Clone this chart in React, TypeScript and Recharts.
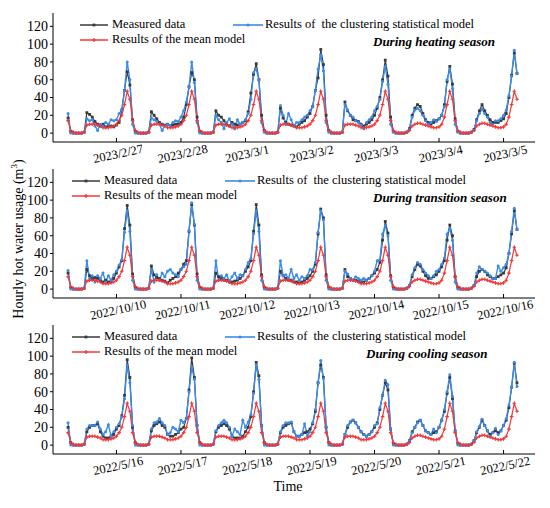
import { LineChart, Line, XAxis, YAxis } from "recharts";

const BLACK = "#3a3a3a";
const BLUE = "#3b8beb";
const RED = "#f2383a";
const FONT = "'Liberation Serif', 'Times New Roman', serif";

// hour index of each labelled tick (one per day)
const tickHours = [18, 42, 66, 90, 114, 138, 162];
const yTicks = [0, 20, 40, 60, 80, 100, 120];

const heatDates = ["2023/2/27", "2023/2/28", "2023/3/1", "2023/3/2", "2023/3/3", "2023/3/4", "2023/3/5"];
const transDates = ["2022/10/10", "2022/10/11", "2022/10/12", "2022/10/13", "2022/10/14", "2022/10/15", "2022/10/16"];
const coolDates = ["2022/5/16", "2022/5/17", "2022/5/18", "2022/5/19", "2022/5/20", "2022/5/21", "2022/5/22"];

// mean model, same profile read in all three panels
const meanModel = [
  14, 3, 1, 0, 0, 0, 1, 9, 10, 10, 10, 9, 8, 6, 6, 6, 7, 8, 10, 14, 20, 32, 47, 38,
  14, 3, 1, 0, 0, 0, 1, 9, 10, 10, 10, 9, 8, 6, 6, 6, 7, 8, 10, 14, 20, 32, 47, 38,
  14, 3, 1, 0, 0, 0, 1, 9, 10, 10, 10, 9, 8, 6, 6, 6, 7, 8, 10, 14, 20, 32, 47, 38,
  14, 3, 1, 0, 0, 0, 1, 9, 10, 10, 10, 9, 8, 6, 6, 6, 7, 8, 10, 14, 20, 32, 47, 38,
  14, 3, 1, 0, 0, 0, 1, 9, 10, 10, 10, 9, 8, 6, 6, 6, 7, 8, 10, 14, 20, 32, 47, 38,
  14, 3, 1, 0, 0, 0, 1, 3, 8, 10, 11, 11, 10, 9, 8, 7, 6, 6, 7, 10, 18, 32, 47, 38,
  14, 3, 1, 0, 0, 0, 1, 3, 8, 10, 11, 11, 10, 9, 8, 7, 6, 6, 7, 10, 18, 32, 47, 38,
];

const heatMeasured = [
  17, 2, 0, 0, 0, 0, 1, 23, 21, 18, 13, 10, 8, 10, 7, 8, 8, 7, 9, 12, 26, 48, 69, 54,
  15, 2, 0, 0, 0, 0, 1, 24, 20, 16, 12, 10, 9, 10, 8, 9, 10, 10, 12, 18, 32, 52, 68, 60,
  18, 2, 0, 0, 0, 0, 1, 25, 20, 18, 14, 10, 8, 12, 10, 9, 10, 12, 14, 24, 45, 66, 78, 60,
  20, 3, 0, 0, 0, 0, 1, 28, 17, 12, 10, 9, 8, 7, 10, 12, 14, 18, 22, 30, 48, 62, 94, 77,
  20, 3, 0, 0, 0, 0, 1, 35, 25, 20, 15, 14, 13, 10, 8, 10, 12, 15, 20, 28, 40, 60, 82, 64,
  18, 2, 0, 0, 0, 0, 1, 5, 20, 28, 32, 30, 22, 15, 12, 10, 12, 14, 16, 20, 32, 58, 75, 55,
  16, 2, 0, 0, 0, 0, 1, 4, 15, 25, 32, 25, 20, 15, 12, 12, 12, 14, 16, 22, 40, 65, 90, 67,
];
const heatClustering = [
  22, 0, 0, 0, 0, 0, 1, 16, 14, 15, 8, 3, 10, 8, 12, 10, 15, 14, 15, 22, 26, 48, 80, 60,
  10, 0, 0, 0, 0, 0, 1, 17, 15, 13, 10, 3, 8, 10, 8, 12, 14, 13, 18, 25, 35, 52, 80, 57,
  12, 0, 0, 0, 0, 0, 1, 20, 15, 12, 5, 12, 16, 10, 5, 15, 10, 12, 15, 22, 38, 68, 72, 60,
  12, 1, 0, 0, 0, 0, 1, 31, 20, 10, 22, 15, 8, 12, 12, 15, 18, 20, 25, 30, 48, 72, 88, 70,
  12, 1, 0, 0, 0, 0, 1, 32, 26, 20, 18, 14, 12, 9, 5, 12, 15, 18, 25, 30, 38, 58, 75, 55,
  10, 1, 0, 0, 0, 0, 1, 4, 18, 26, 28, 25, 20, 14, 10, 12, 15, 13, 16, 20, 30, 60, 72, 50,
  10, 1, 0, 0, 0, 0, 1, 3, 14, 22, 27, 22, 18, 12, 10, 14, 14, 16, 20, 26, 42, 64, 93, 67,
];

const transMeasured = [
  18, 2, 0, 0, 0, 0, 1, 22, 15, 12, 13, 12, 10, 8, 10, 8, 9, 12, 18, 25, 32, 68, 94, 72,
  17, 2, 0, 0, 0, 0, 1, 26, 16, 13, 12, 10, 9, 7, 10, 12, 14, 18, 22, 28, 32, 65, 95, 72,
  17, 2, 0, 0, 0, 0, 1, 18, 14, 12, 10, 10, 8, 8, 9, 10, 12, 15, 20, 25, 32, 65, 95, 72,
  16, 2, 0, 0, 0, 0, 1, 20, 15, 12, 10, 10, 8, 8, 7, 8, 10, 12, 15, 20, 28, 62, 90, 80,
  16, 2, 0, 0, 0, 0, 1, 22, 14, 12, 10, 10, 9, 8, 8, 10, 12, 15, 18, 22, 30, 55, 76, 63,
  15, 2, 0, 0, 0, 0, 1, 4, 14, 22, 28, 26, 20, 15, 12, 12, 14, 16, 20, 25, 32, 55, 72, 60,
  14, 2, 0, 0, 0, 0, 1, 4, 14, 20, 22, 20, 16, 14, 12, 12, 14, 16, 18, 24, 40, 62, 88, 67,
];
const transClustering = [
  21, 0, 0, 0, 0, 0, 1, 32, 12, 15, 8, 15, 12, 18, 8, 15, 10, 16, 20, 27, 33, 64, 88, 65,
  10, 0, 0, 0, 0, 0, 1, 22, 8, 16, 10, 18, 14, 20, 22, 18, 16, 14, 22, 25, 28, 66, 97, 73,
  10, 0, 0, 0, 0, 0, 1, 32, 10, 15, 12, 16, 9, 14, 18, 12, 16, 15, 22, 30, 34, 62, 88, 65,
  10, 0, 0, 0, 0, 0, 1, 32, 15, 16, 12, 22, 12, 16, 10, 14, 12, 15, 22, 22, 30, 64, 88, 78,
  10, 0, 0, 0, 0, 0, 1, 20, 17, 12, 10, 14, 12, 10, 12, 10, 12, 15, 20, 32, 33, 62, 71, 60,
  10, 0, 0, 0, 0, 0, 1, 4, 16, 24, 30, 28, 22, 18, 15, 12, 15, 20, 22, 28, 35, 62, 68, 55,
  8, 0, 0, 0, 0, 0, 1, 4, 18, 25, 22, 20, 18, 15, 12, 12, 26, 20, 24, 28, 40, 65, 91, 67,
];

const coolMeasured = [
  20, 3, 0, 0, 0, 0, 1, 15, 20, 22, 22, 24, 15, 10, 8, 8, 10, 12, 18, 22, 33, 56, 96, 76,
  20, 3, 0, 0, 0, 0, 1, 16, 22, 24, 26, 22, 20, 12, 10, 10, 12, 14, 18, 20, 30, 62, 98, 76,
  22, 3, 0, 0, 0, 0, 1, 15, 20, 22, 24, 22, 18, 10, 8, 8, 8, 10, 15, 20, 32, 60, 93, 78,
  22, 3, 0, 0, 0, 0, 1, 14, 20, 22, 24, 25, 15, 10, 10, 12, 14, 15, 18, 24, 38, 70, 90, 76,
  20, 3, 0, 0, 0, 0, 1, 12, 20, 26, 28, 25, 20, 15, 12, 10, 12, 15, 20, 25, 40, 56, 70, 62,
  18, 2, 0, 0, 0, 0, 1, 5, 15, 20, 26, 28, 22, 16, 14, 12, 14, 15, 20, 28, 38, 58, 76, 52,
  16, 2, 0, 0, 0, 0, 1, 5, 14, 20, 28, 22, 16, 12, 14, 16, 14, 16, 22, 28, 42, 65, 92, 70,
];
const coolClustering = [
  25, 0, 0, 0, 0, 0, 1, 18, 22, 22, 22, 26, 18, 12, 15, 23, 10, 15, 20, 24, 32, 52, 90, 70,
  22, 0, 0, 0, 0, 0, 1, 18, 25, 26, 30, 25, 22, 12, 14, 20, 18, 15, 28, 25, 30, 60, 88, 74,
  22, 0, 0, 0, 0, 0, 1, 16, 22, 25, 28, 25, 20, 10, 18, 15, 12, 28, 20, 26, 34, 58, 90, 74,
  22, 0, 0, 0, 0, 0, 1, 15, 22, 25, 25, 26, 15, 10, 10, 12, 24, 10, 15, 25, 40, 70, 95, 75,
  20, 0, 0, 0, 0, 0, 1, 12, 22, 26, 28, 25, 20, 15, 12, 10, 12, 15, 22, 24, 42, 56, 73, 68,
  18, 0, 0, 0, 0, 0, 1, 5, 14, 20, 25, 28, 22, 16, 14, 12, 18, 14, 20, 28, 40, 60, 79, 55,
  16, 0, 0, 0, 0, 0, 1, 5, 15, 21, 29, 22, 16, 10, 14, 19, 12, 16, 22, 30, 45, 65, 93, 66,
];

const X_DOMAIN: [number, number] = [-5.6, 173.7];
const Y_DOMAIN: [number, number] = [-10, 135];
const PLOT_TOP = 13;
const PLOT_BOTTOM = 142;

const squareDot = (p: any) =>
  p.cx == null ? null : (
    <rect key={`s${p.index}`} x={p.cx - 1.4} y={p.cy - 1.4} width={2.8} height={2.8} fill={BLACK} />
  );
const roundDot = (p: any) =>
  p.cx == null ? null : <circle key={`c${p.index}`} cx={p.cx} cy={p.cy} r={1.5} fill={BLUE} />;
const starDot = (p: any) =>
  p.cx == null ? null : (
    <path
      key={`p${p.index}`}
      d={`M${p.cx - 1.8},${p.cy}H${p.cx + 1.8}M${p.cx},${p.cy - 1.8}V${p.cy + 1.8}`}
      stroke={RED}
      strokeWidth={1.1}
    />
  );

const dateTick = (dates: string[]) => (props: any) => {
  const { x, payload } = props;
  const label = dates[tickHours.indexOf(payload.value)];
  const ty = PLOT_BOTTOM + 13;
  return (
    <g>
      <line x1={x} x2={x} y1={PLOT_BOTTOM} y2={PLOT_BOTTOM - 4} stroke="#000" />
      <text
        x={x + 2}
        y={ty}
        transform={`rotate(-12 ${x + 2} ${ty})`}
        textAnchor="middle"
        dominantBaseline="middle"
        fontSize={12.5}
        fontFamily={FONT}
        fill="#000"
      >
        {label}
      </text>
    </g>
  );
};

function Panel(props: {
  top: number;
  measured: number[];
  clustering: number[];
  mean: number[];
  dates: string[];
  title: string;
  titleX: number;
  legendX: number;
  clusterX: number;
}) {
  const { top, measured, clustering, mean, dates, title, titleX, legendX, clusterX } = props;
  const data = measured.map((m, i) => ({ h: i, measured: m, clustering: clustering[i], mean: mean[i] }));
  const r1 = PLOT_TOP + 12;
  const r2 = PLOT_TOP + 27;
  return (
    <div style={{ position: "absolute", left: 0, top, width: 550, height: 175 }}>
      <LineChart width={550} height={175} data={data} margin={{ top: PLOT_TOP, right: 15, bottom: 0, left: 0 }}>
        <XAxis
          xAxisId="b"
          dataKey="h"
          type="number"
          domain={X_DOMAIN}
          allowDataOverflow
          ticks={tickHours}
          interval={0}
          height={33}
          tickLine={false}
          axisLine={{ stroke: "#000" }}
          tick={dateTick(dates)}
        />
        <XAxis
          xAxisId="t"
          orientation="top"
          dataKey="h"
          type="number"
          domain={X_DOMAIN}
          allowDataOverflow
          height={0}
          tick={false}
          tickLine={false}
          axisLine={{ stroke: "#000" }}
        />
        <YAxis
          yAxisId="l"
          domain={Y_DOMAIN}
          allowDataOverflow
          ticks={yTicks}
          interval={0}
          width={53}
          tickSize={3}
          tickMargin={2}
          axisLine={{ stroke: "#000" }}
          tickLine={{ stroke: "#000" }}
          tick={{ fontSize: 14, fill: "#000", fontFamily: FONT }}
        />
        <YAxis
          yAxisId="r"
          orientation="right"
          domain={Y_DOMAIN}
          allowDataOverflow
          width={0}
          tick={false}
          tickLine={false}
          axisLine={{ stroke: "#000" }}
        />
        <Line xAxisId="b" yAxisId="l" type="linear" dataKey="measured" stroke={BLACK} strokeWidth={1.2}
          dot={squareDot} activeDot={false} isAnimationActive={false} />
        <Line xAxisId="b" yAxisId="l" type="linear" dataKey="clustering" stroke={BLUE} strokeWidth={1.4}
          dot={roundDot} activeDot={false} isAnimationActive={false} />
        <Line xAxisId="b" yAxisId="l" type="linear" dataKey="mean" stroke={RED} strokeWidth={1.2}
          dot={starDot} activeDot={false} isAnimationActive={false} />
      </LineChart>
      <svg width={550} height={175} fontFamily={FONT} style={{ position: "absolute", left: 0, top: 0, pointerEvents: "none" }}>
        <line x1={legendX} x2={legendX + 28} y1={r1} y2={r1} stroke={BLACK} strokeWidth={1.5} />
        <rect x={legendX + 12.6} y={r1 - 1.4} width={2.8} height={2.8} fill={BLACK} />
        <text x={legendX + 32} y={r1} dominantBaseline="middle" fontSize={12.5} fill="#000">
          Measured data
        </text>
        <line x1={clusterX} x2={clusterX + 30} y1={r1} y2={r1} stroke={BLUE} strokeWidth={1.6} />
        <circle cx={clusterX + 15} cy={r1} r={1.6} fill={BLUE} />
        <text x={clusterX + 32} y={r1} dominantBaseline="middle" fontSize={12.5} fill="#000" style={{ whiteSpace: "pre" }}>
          {"Results of  the clustering statistical model"}
        </text>
        <line x1={legendX} x2={legendX + 28} y1={r2} y2={r2} stroke={RED} strokeWidth={1.5} />
        <path d={`M${legendX + 12},${r2}H${legendX + 16}M${legendX + 14},${r2 - 2}V${r2 + 2}`} stroke={RED} strokeWidth={1.2} />
        <text x={legendX + 32} y={r2} dominantBaseline="middle" fontSize={12.5} fill="#000">
          Results of the mean model
        </text>
        <text x={titleX} y={PLOT_TOP + 30} dominantBaseline="middle" fontSize={13} fontWeight="bold" fontStyle="italic" fill="#000">
          {title}
        </text>
      </svg>
    </div>
  );
}

export default function App() {
  return (
    <div style={{ position: "absolute", left: 0, top: 0, width: 550, height: 508, background: "#fff", fontFamily: FONT }}>
      <Panel top={0} measured={heatMeasured} clustering={heatClustering} mean={meanModel} dates={heatDates}
        title="During heating season" titleX={373} legendX={80} clusterX={233} />
      <Panel top={156} measured={transMeasured} clustering={transClustering} mean={meanModel} dates={transDates}
        title="During transition season" titleX={373} legendX={72} clusterX={225} />
      <Panel top={312} measured={coolMeasured} clustering={coolClustering} mean={meanModel} dates={coolDates}
        title="During cooling season" titleX={366} legendX={72} clusterX={225} />
      <svg width={550} height={508} fontFamily={FONT} style={{ position: "absolute", left: 0, top: 0, pointerEvents: "none" }}>
        <text x={20} y={239} transform="rotate(-90 20 239)" textAnchor="middle" dominantBaseline="middle" fontSize={14} fill="#000">
          Hourly hot water usage  (m<tspan fontSize={9} dy={-5}>3</tspan><tspan dy={5}>)</tspan>
        </text>
        <text x={288} y={488} textAnchor="middle" dominantBaseline="middle" fontSize={14} fill="#000">
          Time
        </text>
      </svg>
    </div>
  );
}
